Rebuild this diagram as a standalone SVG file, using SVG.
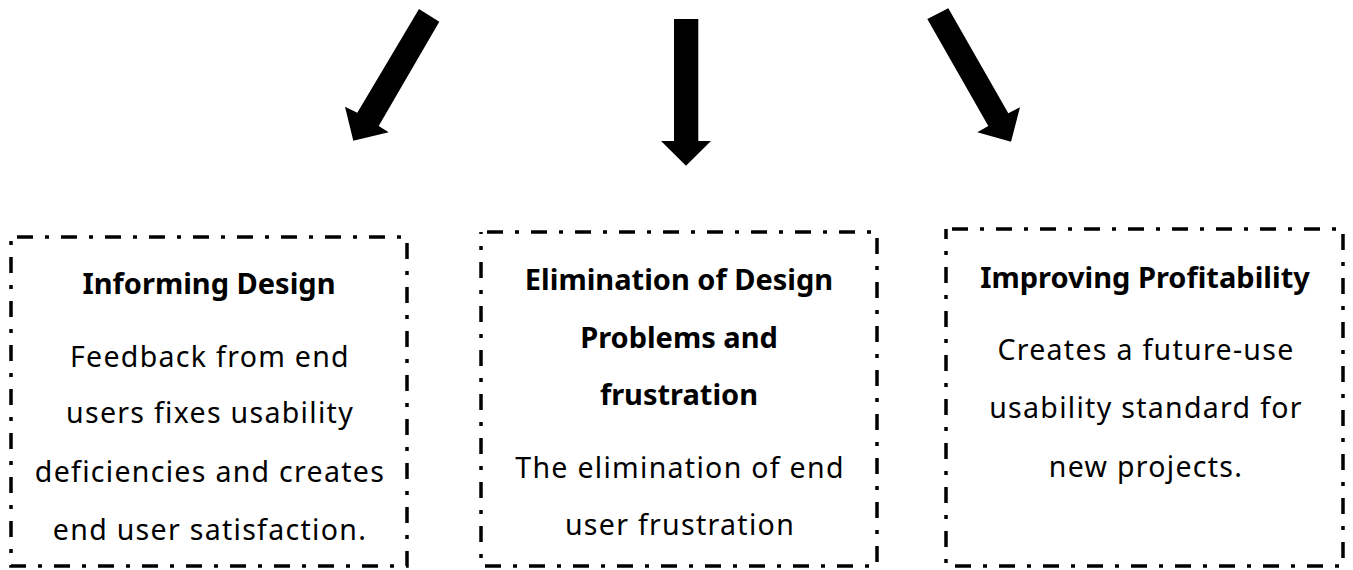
<svg xmlns="http://www.w3.org/2000/svg" width="1353" height="570" viewBox="0 0 1353 570">
  <style>
    .box { fill: #fff; stroke: #000; stroke-width: 3.5; stroke-dasharray: 16 12 4 12; stroke-dashoffset: -6; }
    .arrow { fill: #000; }
    .title { font-family: "Noto Sans", "Liberation Sans", sans-serif; font-weight: bold; font-size: 29px; text-anchor: middle; fill: #000; }
    .body { font-family: "Noto Sans", "Liberation Sans", sans-serif; font-size: 28.5px; letter-spacing: 1.3px; text-anchor: middle; fill: #000; }
  </style>
  <rect width="1353" height="570" fill="#fff"/>

  <g id="connectors">
    <polygon class="arrow" points="419,9 439.3,21.7 378.7,126 388.7,132.3 353.3,140.7 345,106.7 357.3,112.7"/>
    <polygon class="arrow" points="674,19 698.3,19 698.3,141 711,141 686,165.7 661,141 674,141"/>
    <polygon class="arrow" points="948.3,8.3 1008.3,113.3 1020,107.3 1011,141.7 977.3,132.3 988.3,126 927.3,19"/>
  </g>

  <g id="informing-design">
    <rect class="box" x="11" y="237" width="396" height="329"/>
    <text class="title" x="209" y="294">Informing Design</text>
    <text class="body" x="210" y="366.7">Feedback from end</text>
    <text class="body" x="210" y="423.3">users fixes usability</text>
    <text class="body" x="210" y="481.7">deficiencies and creates</text>
    <text class="body" x="210" y="540">end user satisfaction.</text>
  </g>

  <g id="elimination">
    <rect class="box" x="481" y="232" width="396" height="334"/>
    <text class="title" x="679" y="290">Elimination of Design</text>
    <text class="title" x="679" y="348.3">Problems and</text>
    <text class="title" x="679" y="405">frustration</text>
    <text class="body" x="680" y="478.3">The elimination of end</text>
    <text class="body" x="680" y="535">user frustration</text>
  </g>

  <g id="profitability">
    <rect class="box" x="946" y="229" width="397" height="337"/>
    <text class="title" x="1145" y="288.3">Improving Profitability</text>
    <text class="body" x="1146" y="360">Creates a future-use</text>
    <text class="body" x="1146" y="418.3">usability standard for</text>
    <text class="body" x="1146" y="476.7">new projects.</text>
  </g>
</svg>
